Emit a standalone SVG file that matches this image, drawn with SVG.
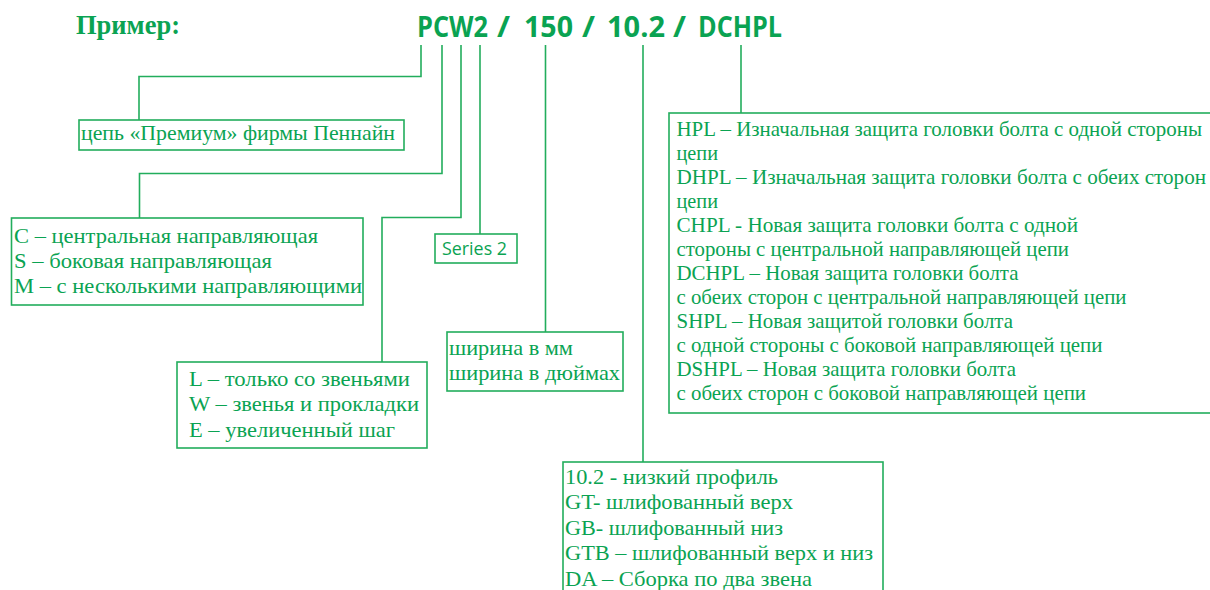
<svg xmlns="http://www.w3.org/2000/svg" width="1210" height="590" viewBox="0 0 1210 590">
<style>
.bg{fill:#ffffff}
.box{fill:none;stroke:#22AD5C;stroke-width:1.6}
.ln{fill:none;stroke:#22AD5C;stroke-width:1.6}
.t{font-family:"Liberation Serif","Times New Roman",serif;font-size:21.5px;fill:#0AA352}
.p{font-family:"Liberation Serif","Times New Roman",serif;font-size:21px;fill:#0AA352}
.title{font-family:"Liberation Serif","Times New Roman",serif;font-size:28px;font-weight:bold;fill:#0AA352}
.code{font-family:"Open Sans","Liberation Sans",sans-serif;font-size:28px;font-weight:bold;fill:#0AA352}
.sans{font-family:"Open Sans","Liberation Sans",sans-serif;font-size:19px;fill:#0AA352}
</style>
<rect class="bg" x="0" y="0" width="1210" height="590"/>
<g id="header">
<text class="title" x="76" y="34" textLength="104" lengthAdjust="spacingAndGlyphs">Пример:</text>
<text class="code" x="417" y="37" textLength="71" lengthAdjust="spacingAndGlyphs">PCW2</text>
<text class="code" x="497" y="37" textLength="13" lengthAdjust="spacingAndGlyphs">/</text>
<text class="code" x="524" y="37" textLength="49" lengthAdjust="spacingAndGlyphs">150</text>
<text class="code" x="582" y="37" textLength="13" lengthAdjust="spacingAndGlyphs">/</text>
<text class="code" x="607" y="37" textLength="58" lengthAdjust="spacingAndGlyphs">10.2</text>
<text class="code" x="673" y="37" textLength="13" lengthAdjust="spacingAndGlyphs">/</text>
<text class="code" x="698" y="37" textLength="84" lengthAdjust="spacingAndGlyphs">DCHPL</text>
</g>
<g id="connectors">
<polyline class="ln" points="421,45 421,76.5 139,76.5 139,120"/>
<polyline class="ln" points="442,45 442,173.5 139.5,173.5 139.5,218"/>
<polyline class="ln" points="461,45 461,217.5 382,217.5 382,362"/>
<polyline class="ln" points="480,45 480,234"/>
<polyline class="ln" points="545.5,45 545.5,332"/>
<polyline class="ln" points="643,45 643,462"/>
<polyline class="ln" points="741,45 741,113"/>
</g>
<g id="node-premium">
<rect class="box" x="79" y="120" width="325" height="30"/>
<text class="t" x="81" y="140" textLength="314" lengthAdjust="spacingAndGlyphs">цепь «Премиум» фирмы Пеннайн</text>
</g>
<g id="node-guide">
<rect class="box" x="11.5" y="218" width="351.5" height="87"/>
<text class="t" x="14" y="242.5" textLength="304" lengthAdjust="spacingAndGlyphs">C – центральная направляющая</text>
<text class="t" x="14" y="267.5" textLength="258" lengthAdjust="spacingAndGlyphs">S – боковая направляющая</text>
<text class="t" x="14" y="292.5" textLength="348" lengthAdjust="spacingAndGlyphs">M – с несколькими направляющими</text>
</g>
<g id="node-series">
<rect class="box" x="435" y="234" width="82" height="29"/>
<text class="sans" x="442" y="254.5" textLength="65" lengthAdjust="spacingAndGlyphs">Series 2</text>
</g>
<g id="node-links">
<rect class="box" x="177" y="362" width="250" height="86"/>
<text class="t" x="189" y="385.5" textLength="221" lengthAdjust="spacingAndGlyphs">L – только со звеньями</text>
<text class="t" x="189" y="411" textLength="230" lengthAdjust="spacingAndGlyphs">W – звенья и прокладки</text>
<text class="t" x="189" y="436.5" textLength="206" lengthAdjust="spacingAndGlyphs">E – увеличенный шаг</text>
</g>
<g id="node-width">
<rect class="box" x="447" y="332" width="176" height="59"/>
<text class="t" x="449" y="354.5" textLength="124" lengthAdjust="spacingAndGlyphs">ширина в мм</text>
<text class="t" x="449" y="379.5" textLength="171" lengthAdjust="spacingAndGlyphs">ширина в дюймах</text>
</g>
<g id="node-profile">
<rect class="box" x="563" y="462" width="320" height="140"/>
<text class="t" x="565" y="483.5" textLength="213" lengthAdjust="spacingAndGlyphs">10.2 - низкий профиль</text>
<text class="t" x="565" y="509" textLength="228" lengthAdjust="spacingAndGlyphs">GT- шлифованный верх</text>
<text class="t" x="565" y="534.5" textLength="218" lengthAdjust="spacingAndGlyphs">GB- шлифованный низ</text>
<text class="t" x="565" y="560" textLength="308" lengthAdjust="spacingAndGlyphs">GTB – шлифованный верх и низ</text>
<text class="t" x="565" y="585.5" textLength="247" lengthAdjust="spacingAndGlyphs">DA – Сборка по два звена</text>
</g>
<g id="node-protection">
<rect class="box" x="669" y="113" width="545" height="300"/>
<text class="p" x="676.5" y="135.5" textLength="525.5" lengthAdjust="spacingAndGlyphs">HPL – Изначальная защита головки болта с одной стороны</text>
<text class="p" x="676.5" y="159.5" textLength="41.5" lengthAdjust="spacingAndGlyphs">цепи</text>
<text class="p" x="676.5" y="183.5" textLength="529.5" lengthAdjust="spacingAndGlyphs">DHPL – Изначальная  защита головки болта с обеих сторон</text>
<text class="p" x="676.5" y="207.5" textLength="41.5" lengthAdjust="spacingAndGlyphs">цепи</text>
<text class="p" x="676.5" y="231.5" textLength="401.5" lengthAdjust="spacingAndGlyphs">CHPL -  Новая защита головки болта с одной</text>
<text class="p" x="676.5" y="255.5" textLength="392.5" lengthAdjust="spacingAndGlyphs">стороны с центральной направляющей цепи</text>
<text class="p" x="676.5" y="279.5" textLength="342" lengthAdjust="spacingAndGlyphs">DCHPL – Новая защита головки болта</text>
<text class="p" x="676.5" y="303.5" textLength="450" lengthAdjust="spacingAndGlyphs">с обеих сторон с центральной направляющей цепи</text>
<text class="p" x="676.5" y="327.5" textLength="336.5" lengthAdjust="spacingAndGlyphs">SHPL – Новая защитой головки болта</text>
<text class="p" x="676.5" y="351.5" textLength="426" lengthAdjust="spacingAndGlyphs">с одной стороны с боковой направляющей цепи</text>
<text class="p" x="676.5" y="375.5" textLength="339.5" lengthAdjust="spacingAndGlyphs">DSHPL – Новая защита головки болта</text>
<text class="p" x="676.5" y="399.5" textLength="409.5" lengthAdjust="spacingAndGlyphs">с обеих сторон с боковой направляющей цепи</text>
</g>
</svg>
